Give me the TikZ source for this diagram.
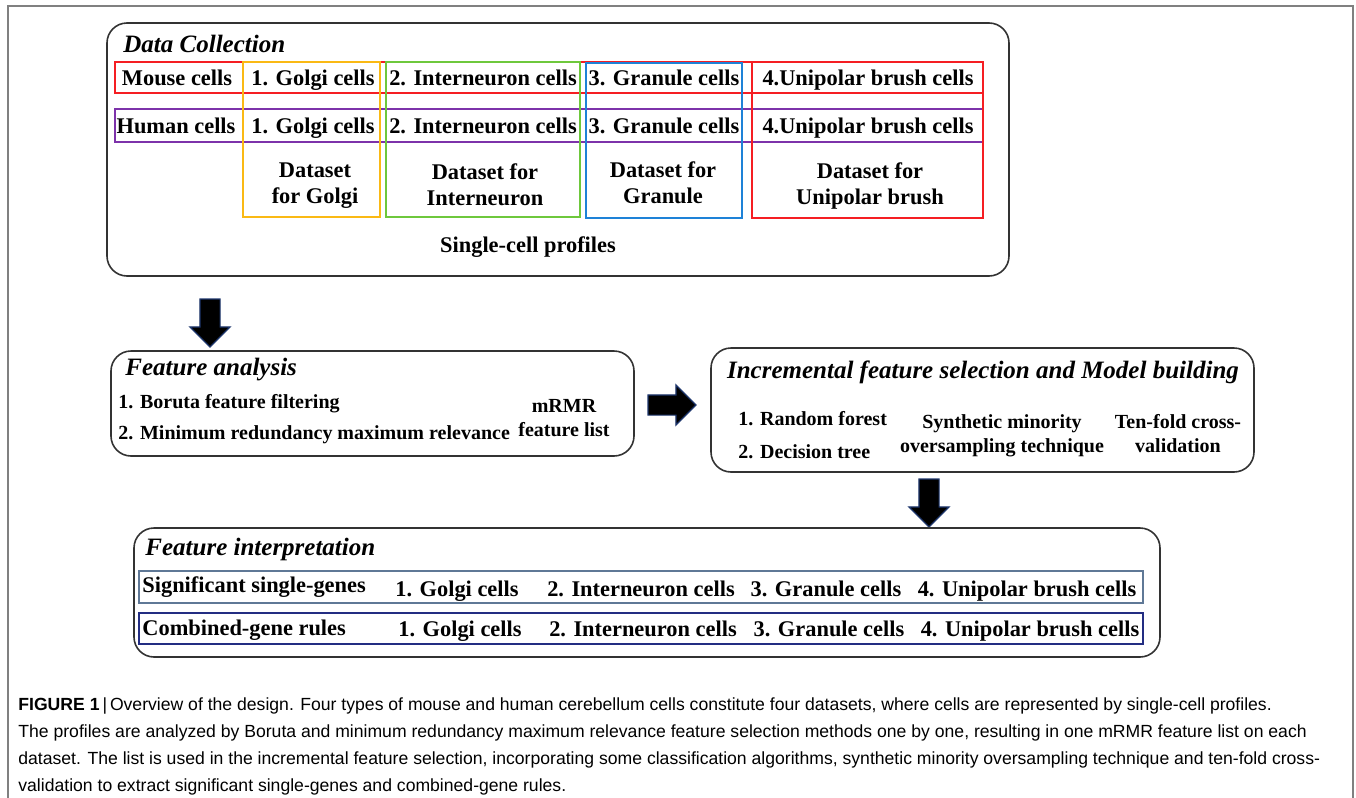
\documentclass[tikz,border=0pt]{standalone}
\usepackage{fontspec}
\setmainfont{Liberation Serif}
\setsansfont{Liberation Sans}
\usetikzlibrary{shapes.arrows}

\definecolor{mousered}{RGB}{245,30,35}
\definecolor{humanpurple}{RGB}{125,50,170}
\definecolor{golgiorange}{RGB}{250,185,20}
\definecolor{interngreen}{RGB}{110,200,60}
\definecolor{granuleblue}{RGB}{30,130,215}
\definecolor{singleslate}{RGB}{95,120,150}
\definecolor{combinednavy}{RGB}{35,45,130}
\definecolor{arrowblue}{RGB}{30,55,110}

\begin{document}
\begin{tikzpicture}[x=0.5pt,y=-0.5pt]
        \tikzstyle{stage}=[draw=black!80,line width=0.8pt,rounded corners=10pt]
        \tikzstyle{group}=[line width=0.9pt]
        \tikzstyle{lbl}=[font=\bfseries\fontsize{11.2}{13}\selectfont,inner sep=0pt,align=center]
        \tikzstyle{row}=[lbl,text height=7.8pt,text depth=2.2pt]
        \tikzstyle{small}=[font=\bfseries\fontsize{10}{12}\selectfont]
        \tikzstyle{stagetitle}=[font=\bfseries\itshape\fontsize{12.5}{15}\selectfont,inner sep=0pt]
        \tikzstyle{blockarrow}=[single arrow,draw=arrowblue,fill=black,line width=0.6pt,inner xsep=0pt,inner ysep=4.75pt,
          single arrow head extend=5pt,minimum height=24pt,minimum width=19.5pt]
       \useasboundingbox (0,0) rectangle (1356,798);
       \draw [gray,line width=0.8pt] (8,798) -- (8,6) -- (1353,6) -- (1353,798);
       % data collection
       \begin{scope}
         \draw [stage] (107,23) rectangle (1009,276);
         \node [stagetitle,anchor=west] (dc) at (123,44) {Data Collection};
         \draw [group,mousered] (115,62) rectangle (983,93);
         \draw [group,humanpurple] (115,109) rectangle (983,142);
         \draw [group,golgiorange] (243,62) rectangle (380,217);
         \draw [group,interngreen] (386,62) rectangle (580,217);
         \draw [group,granuleblue] (586,63) rectangle (742,218);
         \draw [group,mousered] (752,62) rectangle (983,218);
         \node [row] (m1) at (177,80) {Mouse cells};
         \node [row] (m2) at (313,80) {1. Golgi cells};
         \node [row] (m3) at (483,80) {2. Interneuron cells};
         \node [row] (m4) at (664,80) {3. Granule cells};
         \node [row] (m5) at (868,80) {4.Unipolar brush cells};
         \node [row] (h1) at (176,128) {Human cells};
         \node [row] (h2) at (313,128) {1. Golgi cells};
         \node [row] (h3) at (483,128) {2. Interneuron cells};
         \node [row] (h4) at (664,128) {3. Granule cells};
         \node [row] (h5) at (868,128) {4.Unipolar brush cells};
         \node [lbl] (d1) at (315,186) {Dataset\\for Golgi};
         \node [lbl] (d2) at (485,185) {Dataset for\\Interneuron};
         \node [lbl] (d3) at (663,183) {Dataset for\\Granule};
         \node [lbl] (d4) at (870,186) {Dataset for\\Unipolar brush};
         \node [row] (sc) at (528,247) {Single-cell profiles};
       \end{scope}
       \node [blockarrow,rotate=-90] (a1) at (210,318) {};
       % feature analysis
       \begin{scope}
         \draw [stage] (111,351) rectangle (634,456);
         \node [stagetitle,anchor=west] (fa) at (125,370) {Feature analysis};
         \node [row,small,anchor=west] (fa1) at (118,403) {1. Boruta feature filtering};
         \node [row,small,anchor=west] (fa2) at (118,434) {2. Minimum redundancy maximum relevance};
         \node [lbl,small] (fa3) at (564,418) {mRMR\\feature list};
       \end{scope}
       \node [blockarrow] (a2) at (667,405) {};
       % incremental feature selection
       \begin{scope}
         \draw [stage] (711,348) rectangle (1254,472);
         \node [stagetitle] (ifs) at (983,372) {Incremental feature selection and Model building};
         \node [row,small,anchor=west] (if1) at (738,420) {1. Random forest};
         \node [row,small,anchor=west] (if2) at (738,453) {2. Decision tree};
         \node [lbl,small] (if3) at (1002,436) {Synthetic minority\\oversampling technique};
         \node [lbl,small] (if4) at (1178,434) {Ten-fold cross-\\validation};
       \end{scope}
       \node [blockarrow,rotate=-90] (a3) at (929,498) {};
       % feature interpretation
       \begin{scope}
         \draw [stage] (134,528) rectangle (1160,657);
         \node [stagetitle,anchor=west] (fi) at (145,549) {Feature interpretation};
         \draw [group,singleslate] (139,571) rectangle (1143,603);
         \draw [group,combinednavy] (139,613) rectangle (1143,644);
         \node [row,anchor=west] (s0) at (142,587) {Significant single-genes};
         \node [row] (s1) at (457,591) {1. Golgi cells};
         \node [row] (s2) at (641,591) {2. Interneuron cells};
         \node [row] (s3) at (826,591) {3. Granule cells};
         \node [row] (s4) at (1027,591) {4. Unipolar brush cells};
         \node [row,anchor=west] (c0) at (142,630) {Combined-gene rules};
         \node [row] (c1) at (460,631) {1. Golgi cells};
         \node [row] (c2) at (643,631) {2. Interneuron cells};
         \node [row] (c3) at (829,631) {3. Granule cells};
         \node [row] (c4) at (1030,631) {4. Unipolar brush cells};
       \end{scope}
       % caption
       \node [anchor=north west,inner sep=0pt,align=left,font=\sffamily\fontsize{8.8}{13.5}\selectfont] (cap) at (18,697)
         {\textbf{FIGURE 1}\,|\,Overview of the design. Four types of mouse and human cerebellum cells constitute four datasets, where cells are represented by single-cell profiles.\\
          The profiles are analyzed by Boruta and minimum redundancy maximum relevance feature selection methods one by one, resulting in one mRMR feature list on each\\
          dataset. The list is used in the incremental feature selection, incorporating some classification algorithms, synthetic minority oversampling technique and ten-fold cross-\\
          validation to extract significant single-genes and combined-gene rules.};
      \end{tikzpicture}
\end{document}
